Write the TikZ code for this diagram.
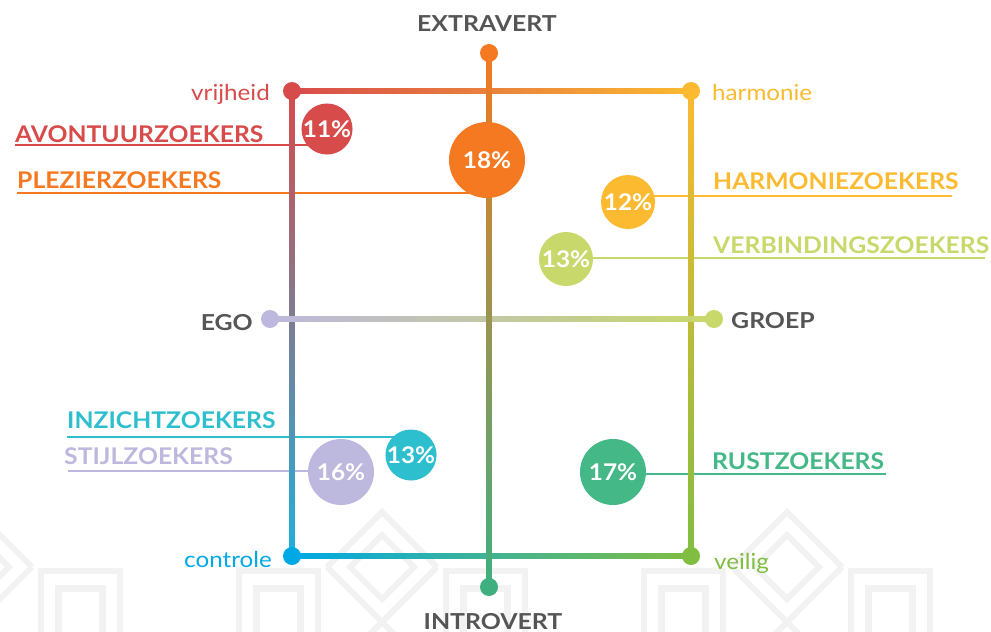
\documentclass[tikz,border=0pt]{standalone}
\usepackage{fontspec}
\setmainfont{Lato}
\newfontfamily\grpfont{Lato}[FakeStretch=1.075]
\newfontfamily\axfont{Lato}[FakeStretch=1.13]
\newfontfamily\polefont{Lato}[FakeStretch=1.1]
\newfontfamily\bubfont{Lato}[FakeStretch=1.06]
\usetikzlibrary{calc}
\definecolor{cRed}{HTML}{D84B4B}
\definecolor{cOrange}{HTML}{F47920}
\definecolor{cYellow}{HTML}{FBBA30}
\definecolor{cLime}{HTML}{C8D86A}
\definecolor{cCyan}{HTML}{2EBFCF}
\definecolor{cLav}{HTML}{BDB8DD}
\definecolor{cGreen}{HTML}{44B887}
\definecolor{cBlue}{HTML}{00A9E6}
\definecolor{cVeilig}{HTML}{80BD41}
\definecolor{cGray}{HTML}{555555}
\definecolor{cTeal}{HTML}{3FAF80}
\definecolor{cBTeal}{HTML}{00B394}
\definecolor{cLeftMid}{HTML}{B08A80}
\definecolor{cLeftBot}{HTML}{1FB0DC}
\definecolor{cRightMid}{HTML}{D4C030}
\definecolor{cVMid}{HTML}{C8A040}
\definecolor{cPat}{HTML}{F2F2F2}
\tikzset{
  pat/.style={draw=cPat, line width=6pt, line join=miter},
  patin/.style={draw=cPat, line width=7pt, line join=miter},
  dot/.style={circle, inner sep=0pt, minimum size=18pt, draw=none},
  bub/.style={circle, inner sep=0pt, draw=none, text=white, font=\bubfont\fontsize{23}{23}\selectfont\bfseries},
  leader/.style={line width=1.5pt},
  grp/.style={anchor=base west, inner sep=0pt, font=\grpfont\fontsize{23}{23}\selectfont\bfseries},
  axl/.style={inner sep=0pt, text=cGray, font=\axfont\fontsize{22}{22}\selectfont\bfseries},
  pole/.style={inner sep=0pt, font=\polefont\fontsize{22}{22}\selectfont},
}
\begin{document}
\begin{tikzpicture}[x=1pt,y=-1pt]
\useasboundingbox (0,0) rectangle (991,632);
% background pattern
\begin{scope}
\clip (0,0) rectangle (991,632);
\foreach \c in {-23,382,787} {
  \draw[pat] (\c-55,567) -- (\c,512) -- (\c+55,567);
  \draw[pat] (\c-55,567) -- (\c+25,647);
  \draw[pat] (\c+55,567) -- (\c-25,647);
  \draw[pat] (\c-32,567) -- (\c,535) -- (\c+32,567) -- (\c,599) -- cycle;
  \foreach \s in {-103.5,103.5} {
    \draw[pat] (\c+\s-39.5,645) -- (\c+\s-39.5,571) -- (\c+\s+39.5,571) -- (\c+\s+39.5,645);
    \draw[patin] (\c+\s-22,645) -- (\c+\s-22,588.5) -- (\c+\s+22,588.5) -- (\c+\s+22,645);
  }
}
\end{scope}
% coordinates
\coordinate (TL) at (292,91);
\coordinate (TR) at (691,91);
\coordinate (BL) at (292,556);
\coordinate (BR) at (691,556);
\coordinate (VT) at (489,53);
\coordinate (VB) at (489,587);
\coordinate (HL) at (270,319);
\coordinate (HR) at (714,319);
\coordinate (p11) at (327,129);
\coordinate (p18) at (487,160);
\coordinate (p12) at (628,202);
\coordinate (p13g) at (566,259);
\coordinate (p13c) at (411,455);
\coordinate (p16) at (341,472);
\coordinate (p17) at (613,472);
% leader lines
\coordinate (avS) at (15,145);
\coordinate (plS) at (17,193);
\coordinate (haE) at (952,196);
\coordinate (veE) at (985,258);
\coordinate (inS) at (67,437);
\coordinate (stS) at (68,471);
\coordinate (ruE) at (886,474);
\draw[leader, cRed] (avS) -- (avS -| p11);
\draw[leader, cOrange] (plS) -- (plS -| p18);
\draw[leader, cYellow] (haE -| p12) -- (haE);
\draw[leader, cLime] (veE -| p13g) -- (veE);
\draw[leader, cCyan] (inS) -- (inS -| p13c);
\draw[leader, cLav] (stS) -- (stS -| p16);
\draw[leader, cGreen] (ruE -| p17) -- (ruE);
% frame edges
\shade[left color=cRed, right color=cYellow] ($(TL)+(0,-2.5)$) rectangle ($(TR)+(0,2.5)$);
\shade[left color=cBlue, middle color=cBTeal, right color=cVeilig] ($(BL)+(0,-2.5)$) rectangle ($(BR)+(0,2.5)$);
\shade[top color=cRed, middle color=cLeftMid, bottom color=cLeftBot] ($(TL)+(-2.5,0)$) rectangle ($(BL)+(2.5,0)$);
\shade[top color=cYellow, middle color=cRightMid, bottom color=cVeilig] ($(TR)+(-2.5,0)$) rectangle ($(BR)+(2.5,0)$);
% axes
\shade[left color=cLav, right color=cLime] ($(HL)+(0,-2.5)$) rectangle ($(HR)+(0,2.5)$);
\shade[top color=cOrange, middle color=cVMid, bottom color=cTeal] ($(VT)+(-2.5,0)$) rectangle ($(VB)+(2.5,0)$);
% dots
\node[dot, fill=cRed] (dTL) at (TL) {};
\node[dot, fill=cYellow] (dTR) at (TR) {};
\node[dot, fill=cBlue] (dBL) at (BL) {};
\node[dot, fill=cVeilig] (dBR) at (BR) {};
\node[dot, fill=cOrange] (dVT) at (VT) {};
\node[dot, fill=cTeal] (dVB) at (VB) {};
\node[dot, fill=cLav] (dHL) at (HL) {};
\node[dot, fill=cLime] (dHR) at (HR) {};
% bubbles
\node[bub, fill=cRed, minimum size=48pt] (c11) at (p11) {11\%};
\node[bub, fill=cOrange, minimum size=76pt] (c18) at (p18) {18\%};
\node[bub, fill=cYellow, minimum size=54pt] (c12) at (p12) {12\%};
\node[bub, fill=cLime, minimum size=54pt] (c13g) at (p13g) {13\%};
\node[bub, fill=cCyan, minimum size=48pt] (c13c) at (p13c) {13\%};
\node[bub, fill=cLav, minimum size=66pt] (c16) at (p16) {16\%};
\node[bub, fill=cGreen, minimum size=66pt] (c17) at (p17) {17\%};
% group labels
\node[grp, text=cRed] (lav) at (15,142) {AVONTUURZOEKERS};
\node[grp, text=cOrange] (lpl) at (17,188) {PLEZIERZOEKERS};
\node[grp, text=cYellow] (lha) at (713,189) {HARMONIEZOEKERS};
\node[grp, text=cLime] (lve) at (713,253) {VERBINDINGSZOEKERS};
\node[grp, text=cCyan] (lin) at (67,428) {INZICHTZOEKERS};
\node[grp, text=cLav] (lst) at (64,464) {STIJLZOEKERS};
\node[grp, text=cGreen] (lru) at (712,469) {RUSTZOEKERS};
% axis labels
\node[axl, anchor=base] (lex) at (487,31) {EXTRAVERT};
\node[axl, anchor=base] (lint) at (493,629) {INTROVERT};
\node[axl, anchor=base east] (lego) at (253,330) {EGO};
\node[axl, anchor=base west] (lgr) at (731,328) {GROEP};
% pole labels
\node[pole, anchor=base east, text=cRed] (lvr) at (270,100) {vrijheid};
\node[pole, anchor=base west, text=cYellow] (lhm) at (712,100) {harmonie};
\node[pole, anchor=base east, text=cBlue] (lco) at (272,567) {controle};
\node[pole, anchor=base west, text=cVeilig] (lvl) at (714,569) {veilig};
\end{tikzpicture}
\end{document}
